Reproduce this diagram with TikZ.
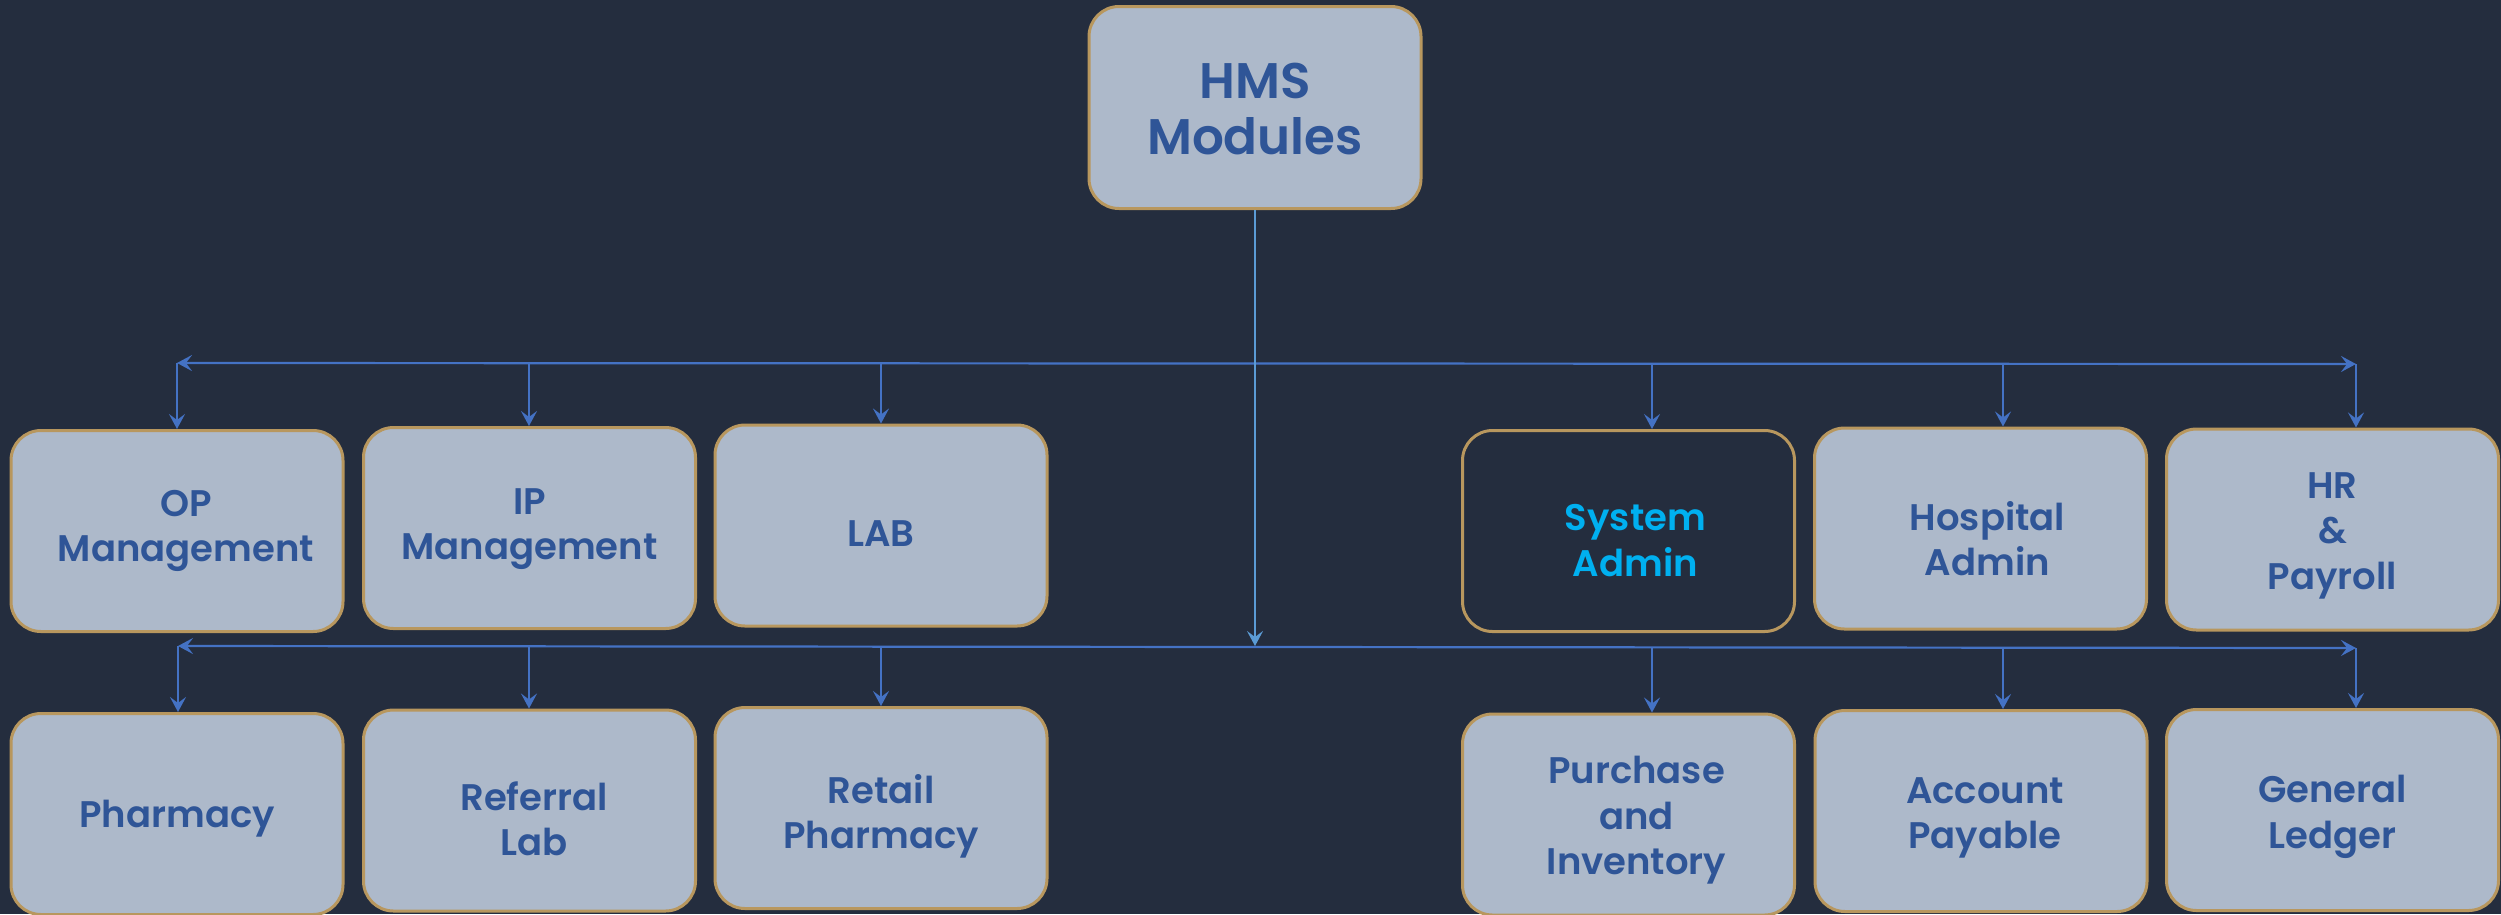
\documentclass[tikz,border=0pt]{standalone}
\usepackage{fontspec}
\setmainfont{Poppins}[UprightFont={* SemiBold}]
\usetikzlibrary{arrows.meta}
\definecolor{bg}{HTML}{242D3E}
\definecolor{boxfill}{HTML}{ADB9CA}
\definecolor{border}{HTML}{B8975E}
\definecolor{txtblue}{HTML}{2F5597}
\definecolor{cyantxt}{HTML}{00B0F0}
\definecolor{busblue}{HTML}{4472C4}
\definecolor{mainblue}{HTML}{5B9BD5}
\begin{document}
\begin{tikzpicture}[x=1pt,y=-1pt,
  modbox/.style={draw=border, fill=boxfill, line width=3pt, rounded corners=30pt,
    minimum width=332pt, minimum height=201pt, inner sep=0pt},
  darkbox/.style={modbox, fill=bg},
  lbl/.style={text=txtblue, align=center, font=\fontsize{37}{45.5}\selectfont, inner sep=0pt},
  cyanlbl/.style={lbl, text=cyantxt},
  toplbl/.style={lbl, font=\fontsize{50}{56}\selectfont},
  bus/.style={draw=busblue, line width=2.2pt,
    {Stealth[length=15pt,width=16pt,inset=6pt]}-{Stealth[length=15pt,width=16pt,inset=6pt]}},
  drop/.style={draw=busblue, line width=2.2pt, -{Stealth[length=15pt,width=16pt,inset=6pt]}},
  trunk/.style={draw=mainblue, line width=2.2pt, -{Stealth[length=15pt,width=16pt,inset=6pt]}}
]
\useasboundingbox (0,0) rectangle (2501,914);
\fill[bg] (0,0) rectangle (2501,914);

% top node
\node[modbox, minimum height=202pt] (hms) at (1255,107.5)
  [label={[toplbl,yshift=-1.5pt]center:{HMS\\Modules}}] {};

% first row
\node[modbox] (op)   at (177,531)    [label={[lbl,xshift=9pt]center:{OP\\Management}}] {};
\node[modbox] (ip)   at (529.5,528)  [label={[lbl,yshift=-1pt]center:{IP\\Management}}] {};
\node[modbox] (lab)  at (881,525.5)  [label={[lbl,yshift=-8pt]center:{LAB}}] {};
\node[darkbox] (sys) at (1628.5,531) [label={[cyanlbl,xshift=7pt,yshift=-9.5pt]center:{System\\Admin}}] {};
\node[modbox] (hosp) at (1980.5,528.5) [label={[lbl,xshift=7pt,yshift=-10pt]center:{Hospital\\Admin}}] {};
\node[modbox] (hr)   at (2332.5,529.5) [label={[lbl,yshift=-6pt]center:{HR\\\&\\Payroll}}] {};

% second row
\node[modbox] (pha)  at (177,814)    [label={[lbl,yshift=-5pt]center:{Pharmacy}}] {};
\node[modbox] (ref)  at (529.5,810.5) [label={[lbl,xshift=4.5pt,yshift=-8pt]center:{Referral\\Lab}}] {};
\node[modbox] (ret)  at (881,808)    [label={[lbl,yshift=-8.5pt]center:{Retail\\Pharmacy}}] {};
\node[modbox] (pur)  at (1628.5,814.5) [label={[lbl,xshift=8pt,yshift=-6pt]center:{Purchase\\and\\Inventory}}] {};
\node[modbox] (acc)  at (1981,811)   [label={[lbl,xshift=4pt,yshift=-7pt]center:{Account\\Payable}}] {};
\node[modbox] (gen)  at (2332.5,810) [label={[lbl,yshift=-7pt]center:{General\\Ledger}}] {};

% bus coordinates
\coordinate (t1) at (177,363);
\coordinate (t2) at (529,363);
\coordinate (t3) at (881,363);
\coordinate (t4) at (1652,363.5);
\coordinate (t5) at (2003,364);
\coordinate (t6) at (2356,364);
\coordinate (b1) at (178,646);
\coordinate (b2) at (529,646);
\coordinate (b3) at (881,646);
\coordinate (b4) at (1652,647);
\coordinate (b5) at (2003,647.5);
\coordinate (b6) at (2356,648);
\coordinate (bc) at (1255,646);

\draw[bus] (t1) -- (t6);
\draw[bus] (b1) -- (b6);

\draw[drop] (t1) -- (t1 |- op.north);
\draw[drop] (t2) -- (t2 |- ip.north);
\draw[drop] (t3) -- (t3 |- lab.north);
\draw[drop] (t4) -- (t4 |- sys.north);
\draw[drop] (t5) -- (t5 |- hosp.north);
\draw[drop] (t6) -- (t6 |- hr.north);

\draw[drop] (b1) -- (b1 |- pha.north);
\draw[drop] (b2) -- (b2 |- ref.north);
\draw[drop] (b3) -- (b3 |- ret.north);
\draw[drop] (b4) -- (b4 |- pur.north);
\draw[drop] (b5) -- (b5 |- acc.north);
\draw[drop] (b6) -- (b6 |- gen.north);

\draw[trunk] (hms.south) -- (bc);
\end{tikzpicture}
\end{document}
